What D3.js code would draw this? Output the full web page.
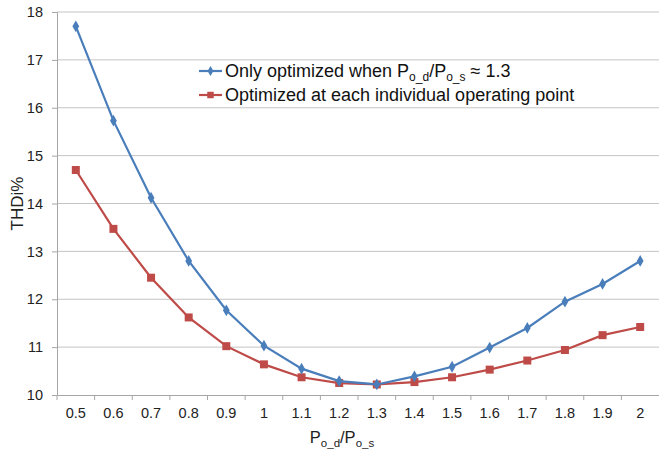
<!DOCTYPE html>
<html><head><meta charset="utf-8">
<script src="https://cdn.jsdelivr.net/npm/d3@7"></script>
<style>body{margin:0;background:#fff}svg{display:block;font-family:"Liberation Sans",Arial,sans-serif}</style>
</head><body><svg id="c" width="659" height="456"></svg>
<script>
const categories = ["0.5","0.6","0.7","0.8","0.9","1","1.1","1.2","1.3","1.4","1.5","1.6","1.7","1.8","1.9","2"];
const seriesBlue = [17.7,15.73,14.12,12.8,11.77,11.03,10.55,10.29,10.22,10.39,10.59,10.99,11.4,11.95,12.32,12.8];
const seriesRed  = [14.7,13.47,12.45,11.62,11.02,10.64,10.37,10.25,10.22,10.27,10.37,10.53,10.72,10.94,11.25,11.42];
const yTicks = [10,11,12,13,14,15,16,17,18];
const names = ["Only optimized when ", "Optimized at each individual operating point"];

const svg = d3.select("#c");
const L = 57, R = 659, T = 12, B = 395;
const x = d3.scaleBand().domain(categories).range([L, R]);
const y = d3.scaleLinear().domain([10, 18]).range([B, T]);

// gridlines
svg.append("g").selectAll("line").data(yTicks.slice(1)).join("line")
  .attr("x1", L).attr("x2", R).attr("y1", d => y(d)).attr("y2", d => y(d))
  .attr("stroke", "#c4c4c4").attr("stroke-width", 1);

// y axis
const ya = svg.append("g").attr("transform", `translate(${L},0)`)
  .call(d3.axisLeft(y).tickValues(yTicks).tickSize(5).tickPadding(9).tickFormat(d3.format("d")));
ya.select(".domain").attr("stroke", "#a6a6a6");
ya.selectAll(".tick line").attr("stroke", "#a6a6a6");
ya.selectAll("text").attr("font-size", 14.5).attr("fill", "#222");

// x axis
const xa = svg.append("g").attr("transform", `translate(0,${B})`)
  .call(d3.axisBottom(x).tickSize(0).tickPadding(13));
xa.select(".domain").attr("stroke", "#a6a6a6");
xa.selectAll("text").attr("font-size", 14.5).attr("fill", "#222");
svg.append("g").selectAll("line").data(categories).join("line")
  .attr("x1", d => x(d)).attr("x2", d => x(d)).attr("y1", B).attr("y2", B + 5)
  .attr("stroke", "#a6a6a6");

const cx = d => x(d) + x.bandwidth() / 2;
const blue = "#4a7ebb", red = "#be4b48";

function drawSeries(vals, color, shape, size) {
  const line = d3.line().x((d, i) => cx(categories[i])).y(d => y(d));
  svg.append("path").datum(vals).attr("d", line).attr("fill", "none")
    .attr("stroke", color).attr("stroke-width", 2.2);
  svg.append("g").selectAll("path").data(vals).join("path")
    .attr("d", d3.symbol().type(shape).size(size))
    .attr("transform", (d, i) => `translate(${cx(categories[i])},${y(d)})`)
    .attr("fill", color);
}
drawSeries(seriesRed, red, d3.symbolSquare, 64);
drawSeries(seriesBlue, blue, d3.symbolDiamond, 40);

// legend
const lg = svg.append("g");
const rows = [{c: blue, s: d3.symbolDiamond, sz: 30, y: 71}, {c: red, s: d3.symbolSquare, sz: 42, y: 95}];
rows.forEach(r => {
  lg.append("line").attr("x1", 199).attr("x2", 222).attr("y1", r.y).attr("y2", r.y)
    .attr("stroke", r.c).attr("stroke-width", 2.2);
  lg.append("path").attr("d", d3.symbol().type(r.s).size(r.sz)()).attr("transform", `translate(210.5,${r.y})`).attr("fill", r.c);
});
const t1 = lg.append("text").attr("x", 225).attr("y", 71).attr("dy", "0.35em").attr("font-size", 18).attr("fill", "#111");
t1.append("tspan").text(names[0] + "P");
t1.append("tspan").attr("font-size", 12).attr("dy", 4).text("o_d");
t1.append("tspan").attr("dy", -4).text("/P");
t1.append("tspan").attr("font-size", 12).attr("dy", 4).text("o_s");
t1.append("tspan").attr("dy", -4).text(" \u2248 1.3");
lg.append("text").attr("x", 225).attr("y", 95).attr("dy", "0.35em").attr("font-size", 18).attr("fill", "#111").text(names[1]);

// axis titles
svg.append("text").attr("transform", "translate(17,203.5) rotate(-90)").attr("text-anchor", "middle")
  .attr("dy", "0.35em").attr("font-size", 17).attr("fill", "#222").text("THDi%");
const xt = svg.append("text").attr("x", 342).attr("y", 443).attr("text-anchor", "middle").attr("font-size", 16.5).attr("fill", "#222");
xt.append("tspan").text("P");
xt.append("tspan").attr("font-size", 11.5).attr("dy", 4).text("o_d");
xt.append("tspan").attr("dy", -4).text("/P");
xt.append("tspan").attr("font-size", 11.5).attr("dy", 4).text("o_s");
</script></body></html>
